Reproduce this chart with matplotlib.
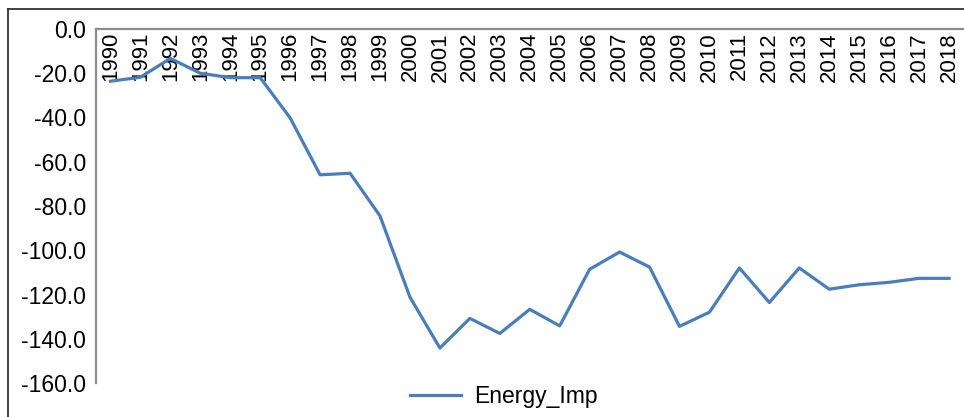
import numpy as np
import matplotlib.pyplot as plt
import matplotlib.transforms as mtransforms
from matplotlib.lines import Line2D

years = [str(y) for y in range(1990, 2019)]
energy_imp = [-23.6, -21.8, -13.3, -20.0, -22.0, -22.0, -40.2, -65.9, -65.2, -84.5,
              -121.2, -144.2, -130.8, -137.6, -126.7, -134.2, -108.6, -100.8, -107.6, -134.4,
              -128.0, -108.0, -123.6, -108.0, -117.6, -115.6, -114.5, -112.7, -112.7]
yticks = [0, -20, -40, -60, -80, -100, -120, -140, -160]

plt.rcParams['font.family'] = ['Liberation Sans', 'DejaVu Sans']

W, H = 964, 417
fig = plt.figure(figsize=(W / 100, H / 100), dpi=100)
ax = fig.add_axes([95.5 / W, 1 - 383 / H, 868.5 / W, 354 / H])

x = np.arange(len(years))
ax.plot(x, energy_imp, color='#4a7ebb', lw=2.3, label='Energy_Imp')

ax.set_xlim(-0.5, len(years) - 0.5)
ax.set_ylim(-160, 0)
ax.set_yticks(yticks)
ax.set_yticklabels([f'{v:.1f}' for v in yticks], fontsize=16.5)
ax.tick_params(axis='y', length=0, pad=7)

# year labels sit inside the plot, just under the zero line
ax.set_xticks(x)
ax.set_xticklabels(years, rotation=90, fontsize=16)
ax.xaxis.tick_top()
ax.tick_params(axis='x', length=0, pad=0)
off = mtransforms.ScaledTranslation(0, -3 / 100, fig.dpi_scale_trans)
for lab in ax.get_xticklabels():
    lab.set_transform(lab.get_transform() + off)
    lab.set_va('top')

for s in ['right', 'bottom']:
    ax.spines[s].set_visible(False)
for s in ['left', 'top']:
    ax.spines[s].set_color('#8c8c8c')
    ax.spines[s].set_linewidth(1.6)

ax.legend(loc='center', bbox_to_anchor=(504 / W, 1 - 397 / H), bbox_transform=fig.transFigure,
          frameon=False, fontsize=16.5, handlelength=2.2, handletextpad=0.6)

# outer chart frame (only left and top edges show)
fig.add_artist(Line2D([8 / W, 8 / W], [0, 1 - 9 / H], transform=fig.transFigure, color='#222222', lw=1.2))
fig.add_artist(Line2D([8 / W, 1], [1 - 9 / H, 1 - 9 / H], transform=fig.transFigure, color='#222222', lw=1.2))

fig.savefig('out.png', dpi=100)
